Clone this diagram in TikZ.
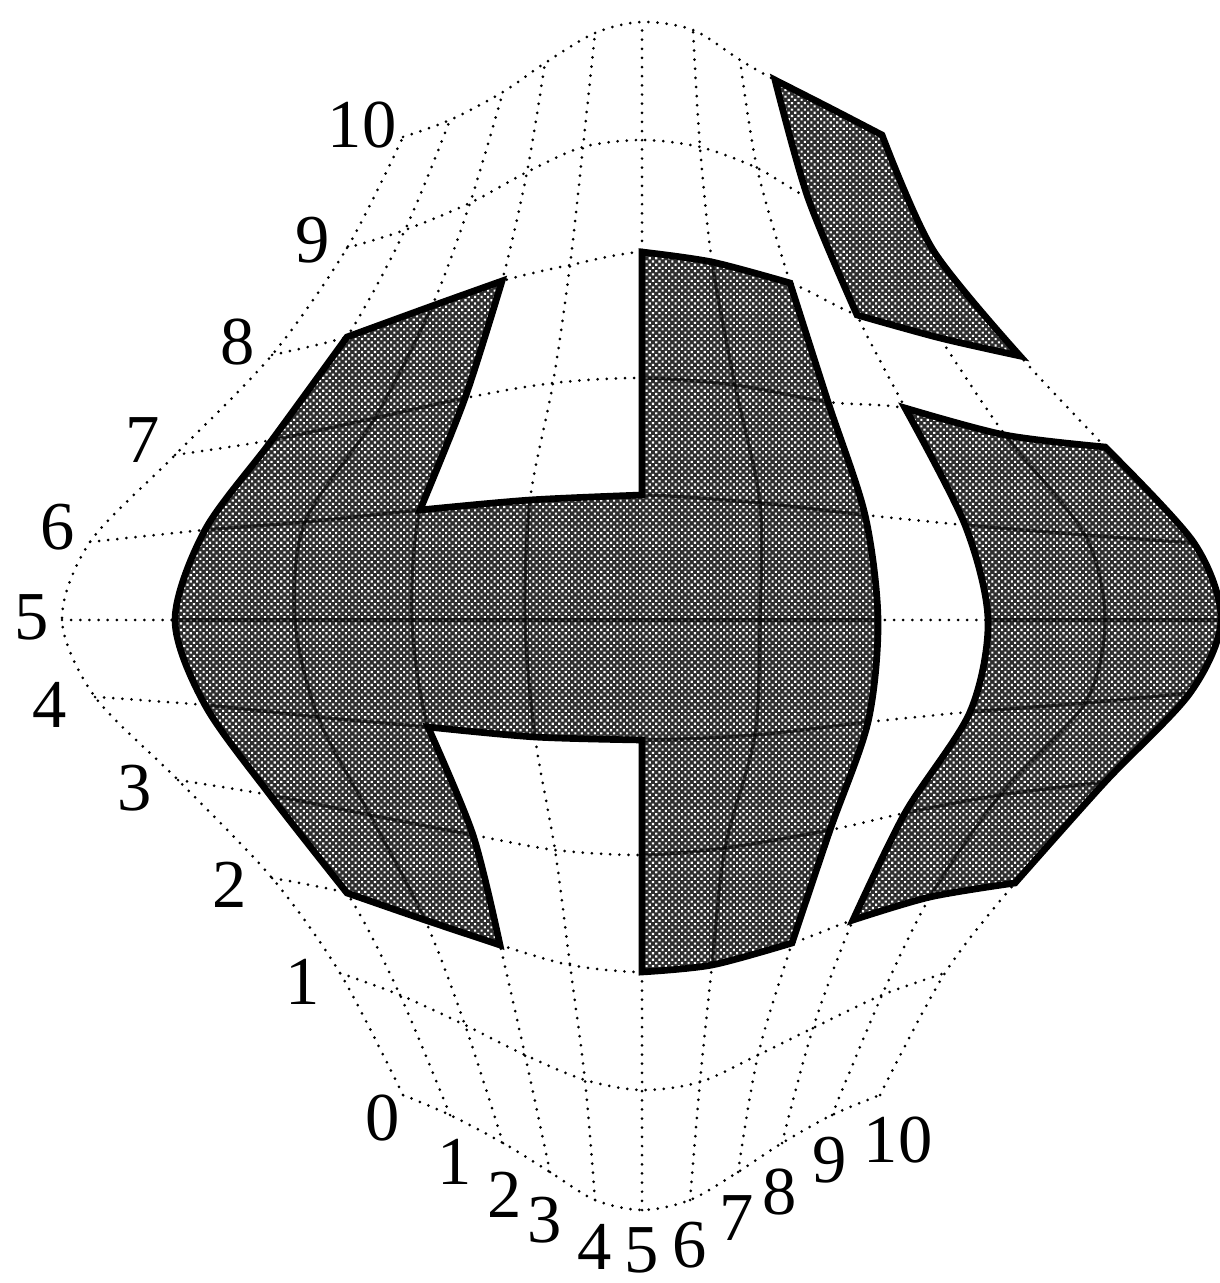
\documentclass[tikz,border=0pt]{standalone}
\usepackage{fontspec}
\setmainfont{Liberation Serif}
\usetikzlibrary{patterns.meta}
\tikzset{
  thingrid/.style={line width=0.85pt,dash pattern=on 0pt off 2.6pt,line cap=round},
  solidgrid/.style={line width=0.9pt,black,opacity=0.6},
  patchfill/.style={fill=black!82},
  patchdots/.style={pattern={Dots[distance=1.3pt,radius=0.42pt,angle=45]},pattern color=white},
  patchedge/.style={line width=1.9pt,line join=miter,miter limit=10},
  numlabel/.style={font=\fontsize{19.5}{19.5}\selectfont,inner sep=0pt}
}
\newcommand{\rowline}[1]{plot[smooth,tension=0.5] coordinates {(g0-#1) (g1-#1) (g2-#1) (g3-#1) (g4-#1) (g5-#1) (g6-#1) (g7-#1) (g8-#1) (g9-#1) (g10-#1)}}
\newcommand{\colline}[1]{plot[smooth,tension=0.5] coordinates {(g#1-0) (g#1-1) (g#1-2) (g#1-3) (g#1-4) (g#1-5) (g#1-6) (g#1-7) (g#1-8) (g#1-9) (g#1-10)}}
\newcommand{\patchcross}{
  plot[smooth,tension=0.5] coordinates {(g1-8) (g2-8) (g3-8)}
  -- plot[smooth,tension=0.5] coordinates {(g3-8) (g3-7) (g3-6)}
  -- plot[smooth,tension=0.5] coordinates {(g3-6) (g4-6) (g5-6)}
  -- plot[smooth,tension=0.5] coordinates {(g5-6) (g5-7) (g5-8)}
  -- plot[smooth,tension=0.5] coordinates {(g5-8) (g6-8) (g7-8)}
  -- plot[smooth,tension=0.5] coordinates {(g7-8) (g7-7) (g7-6) (g7-5) (g7-4) (g7-3) (g7-2)}
  -- plot[smooth,tension=0.5] coordinates {(g7-2) (g6-2) (g5-2)}
  -- plot[smooth,tension=0.5] coordinates {(g5-2) (g5-3) (g5-4)}
  -- plot[smooth,tension=0.5] coordinates {(g5-4) (g4-4) (g3-4)}
  -- plot[smooth,tension=0.5] coordinates {(g3-4) (g3-3) (g3-2)}
  -- plot[smooth,tension=0.5] coordinates {(g3-2) (g2-2) (g1-2)}
  -- plot[smooth,tension=0.5] coordinates {(g1-2) (g1-3) (g1-4) (g1-5) (g1-6) (g1-7) (g1-8)}
  -- cycle}
\newcommand{\patchright}{
  plot[smooth,tension=0.5] coordinates {(g8-7) (g9-7) (g10-7)}
  -- plot[smooth,tension=0.5] coordinates {(g10-7) (g10-6) (g10-5) (g10-4) (g10-3) (g10-2)}
  -- plot[smooth,tension=0.5] coordinates {(g10-2) (g9-2) (g8-2)}
  -- plot[smooth,tension=0.5] coordinates {(g8-2) (g8-3) (g8-4) (g8-5) (g8-6) (g8-7)}
  -- cycle}
\newcommand{\patchtop}{
  plot[smooth,tension=0.5] coordinates {(g8-10) (g9-10) (g10-10)}
  -- plot[smooth,tension=0.5] coordinates {(g10-10) (g10-9) (g10-8)}
  -- plot[smooth,tension=0.5] coordinates {(g10-8) (g9-8) (g8-8)}
  -- plot[smooth,tension=0.5] coordinates {(g8-8) (g8-9) (g8-10)}
  -- cycle}
\begin{document}
\begin{tikzpicture}[x=0.01cm,y=-0.01cm]
  \useasboundingbox (0,0) rectangle (1219,1283);
  \foreach \pts [count=\j from 0] in {
    {403/1095,450/1115,503/1143,550/1172,595/1200,642/1210,690/1200,738/1172,782/1143,832/1115,880/1095},
    {340/973,400/995,465/1025,525/1055,585/1080,642/1090,700/1082,758/1055,813/1028,882/995,945/973},
    {272/878,347/893,425/920,500/945,570/965,642/972,712/965,792/943,853/920,930/897,1015/883},
    {178/780,270/795,370/815,473/835,555/850,642/855,725/848,830/830,905/813,1000/795,1105/782},
    {95/697,205/705,318/717,428/727,535/737,642/740,755/735,868/722,970/712,1085/703,1190/693},
    {62/620,175/620,295/620,412/620,525/620,642/620,760/620,878/620,988/620,1105/620,1221/620},
    {90/542,205/530,305/522,420/510,530/500,642/495,760/503,865/515,965/525,1085/535,1194/543},
    {175/455,272/440,375/418,465/398,553/383,642/378,735/385,828/402,905/408,1005/435,1105/447},
    {272/355,347/337,432/306,502/281,570/265,642/252,712/262,790/283,857/315,940/338,1020/356},
    {347/248,405/230,470/203,527/172,583/147,642/140,700/147,757/168,808/198,868/225,933/250},
    {403/137,450/120,503/92,545/63,595/33,642/22,693/30,740/60,775/80,830/108,882/135}}
    \foreach \px/\py [count=\i from 0] in \pts
      \coordinate (g\i-\j) at (\px,\py);
  \foreach \n in {0,...,10} {
    \draw[thingrid] \rowline{\n};
    \draw[thingrid] \colline{\n};
  }
  \fill[patchfill] \patchcross;
  \fill[patchfill] \patchright;
  \fill[patchfill] \patchtop;
  \path[patchdots] \patchcross;
  \path[patchdots] \patchright;
  \path[patchdots] \patchtop;
  \begin{scope}
    \clip \patchcross;
    \foreach \n in {3,...,7} \draw[solidgrid] \rowline{\n};
    \foreach \n in {2,3,4,6} \draw[solidgrid] \colline{\n};
  \end{scope}
  \begin{scope}
    \clip \patchright;
    \foreach \n in {3,...,6} \draw[solidgrid] \rowline{\n};
    \draw[solidgrid] \colline{9};
  \end{scope}
  \draw[patchedge] \patchcross;
  \draw[patchedge] \patchright;
  \draw[patchedge] \patchtop;
  \foreach \n/\x/\y in {10/362/125,9/313/240,8/238/342,7/143/440,6/58/527,5/32/617,4/50/705,3/135/788,2/230/885,1/303/982}
    \node[numlabel] (rownum\n) at (\x,\y) {\n};
  \foreach \n/\x/\y in {0/383/1118,1/455/1162,2/505/1195,3/545/1220,4/595/1247,5/642/1250,6/690/1245,7/737/1218,8/780/1192,9/830/1160,10/898/1140}
    \node[numlabel] (colnum\n) at (\x,\y) {\n};
\end{tikzpicture}
\end{document}
